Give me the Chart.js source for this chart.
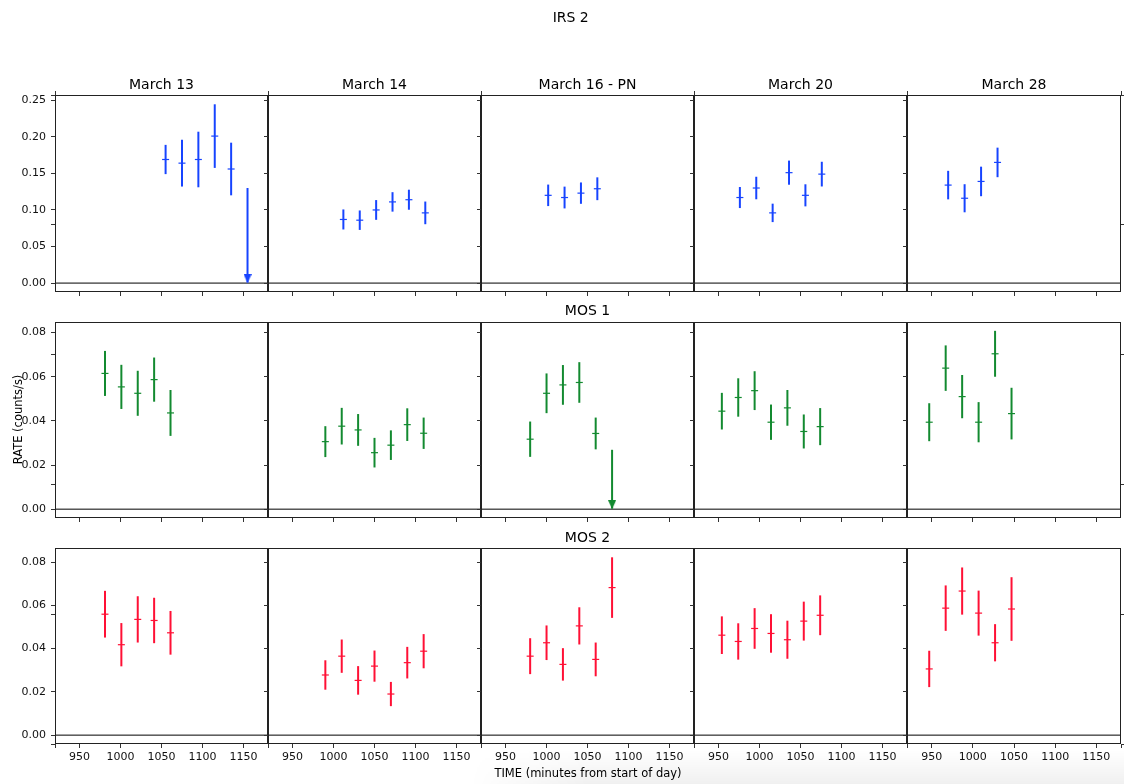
<!DOCTYPE html>
<html>
<head>
<meta charset="utf-8">
<title>IRS 2 light curves</title>
<script src="https://cdn.jsdelivr.net/npm/chart.js@4.4.1/dist/chart.umd.min.js"></script>
<style>
  html, body { margin: 0; padding: 0; background: #fff; }
  #fig { position: relative; width: 1124px; height: 784px; overflow: hidden; font-family: 'DejaVu Sans', sans-serif; }
  #fig canvas { position: absolute; }
  .ttl { position: absolute; font-size: 14px; line-height: normal; color: #000; white-space: nowrap; transform: translateX(-50%); z-index: 5; }
  #shade { position: absolute; left: 470px; top: 750px; width: 654px; height: 34px; z-index: 0;
           background: linear-gradient(to bottom, rgba(0,0,0,0) 0%, rgba(0,0,0,0.06) 100%);
           -webkit-mask-image: linear-gradient(to right, transparent 0%, #000 18%); mask-image: linear-gradient(to right, transparent 0%, #000 18%); }
</style>
</head>
<body>
<div id="fig"><div id="shade"></div></div>
<script>
// ---- labels ----
const FIG_TITLE = 'IRS 2';
const DAYS = ['March 13', 'March 14', 'March 16 - PN', 'March 20', 'March 28'];
const INSTRUMENTS = ['IRS 2', 'MOS 1', 'MOS 2'];
const X_LABEL = 'TIME (minutes from start of day)';
const Y_LABEL = 'RATE (counts/s)';

// ---- tick values ----
const X_TICKS = [950, 1000, 1050, 1100, 1150];
const IRS2_TICKS = [0, 0.05, 0.10, 0.15, 0.20, 0.25];
const MOS_TICKS = [0, 0.02, 0.04, 0.06, 0.08];
const FRAME_TICKS = [0, 0.2, 0.4, 0.6, 0.8, 1.0];

// ---- IRS 2 (one list per day) ----
const IRS2_TIME = [
  [1055, 1075, 1095, 1115, 1135],
  [1012, 1032, 1052, 1072, 1092, 1112],
  [1002, 1022, 1042, 1062],
  [976, 996, 1016, 1036, 1056, 1076],
  [970, 990, 1010, 1030]
];
const IRS2_RATE = [
  [0.169, 0.164, 0.169, 0.201, 0.156],
  [0.087, 0.086, 0.100, 0.111, 0.114, 0.096],
  [0.120, 0.117, 0.123, 0.129],
  [0.117, 0.130, 0.096, 0.151, 0.120, 0.149],
  [0.134, 0.116, 0.139, 0.165]
];
const IRS2_ERR = [
  [0.020, 0.032, 0.038, 0.0435, 0.036],
  [0.0137, 0.0133, 0.0135, 0.0133, 0.0137, 0.0155],
  [0.0147, 0.0149, 0.0146, 0.0156],
  [0.0144, 0.0154, 0.0126, 0.0165, 0.0151, 0.0169],
  [0.0195, 0.0192, 0.0202, 0.0202]
];
const IRS2_LIMIT_TIME = [1155, null, null, null, null];
const IRS2_LIMIT_RATE = [0.130, null, null, null, null];

// ---- MOS 1 ----
const MOS1_TIME = [
  [981, 1001, 1021, 1041, 1061],
  [990, 1010, 1030, 1050, 1070, 1090, 1110],
  [980, 1000, 1020, 1040, 1060],
  [954, 974, 994, 1014, 1034, 1054, 1074],
  [947, 967, 987, 1007, 1027, 1047]
];
const MOS1_RATE = [
  [0.0615, 0.0554, 0.0525, 0.0587, 0.0436],
  [0.0306, 0.0376, 0.0359, 0.0256, 0.0290, 0.0383, 0.0344],
  [0.0317, 0.0525, 0.0563, 0.0574, 0.0343],
  [0.0444, 0.0506, 0.0537, 0.0394, 0.0459, 0.0352, 0.0374],
  [0.0394, 0.0639, 0.0510, 0.0394, 0.0704, 0.0433]
];
const MOS1_ERR = [
  [0.0102, 0.0100, 0.0102, 0.0100, 0.0104],
  [0.0070, 0.0083, 0.0072, 0.0067, 0.0067, 0.0074, 0.0071],
  [0.0080, 0.0090, 0.0090, 0.0092, 0.0072],
  [0.0083, 0.0087, 0.0088, 0.0080, 0.0081, 0.0077, 0.0084],
  [0.0086, 0.0103, 0.0098, 0.0091, 0.0104, 0.0117]
];
const MOS1_LIMIT_TIME = [null, null, 1080, null, null];
const MOS1_LIMIT_RATE = [null, null, 0.0269, null, null];

// ---- MOS 2 ----
const MOS2_TIME = [
  [981, 1001, 1021, 1041, 1061],
  [990, 1010, 1030, 1050, 1070, 1090, 1110],
  [980, 1000, 1020, 1040, 1060, 1080],
  [954, 974, 994, 1014, 1034, 1054, 1074],
  [947, 967, 987, 1007, 1027, 1047]
];
const MOS2_RATE = [
  [0.0559, 0.0418, 0.0535, 0.0530, 0.0473],
  [0.0278, 0.0365, 0.0253, 0.0319, 0.0190, 0.0335, 0.0388],
  [0.0365, 0.0427, 0.0327, 0.0505, 0.0350, 0.0682],
  [0.0462, 0.0433, 0.0493, 0.0470, 0.0441, 0.0527, 0.0554],
  [0.0306, 0.0587, 0.0666, 0.0564, 0.0427, 0.0583]
];
const MOS2_ERR = [
  [0.0108, 0.0100, 0.0107, 0.0105, 0.0101],
  [0.0068, 0.0077, 0.0066, 0.0072, 0.0056, 0.0073, 0.0079],
  [0.0083, 0.0080, 0.0075, 0.0086, 0.0078, 0.0140],
  [0.0087, 0.0084, 0.0094, 0.0089, 0.0088, 0.0090, 0.0092],
  [0.0084, 0.0105, 0.0109, 0.0104, 0.0086, 0.0147]
];
const MOS2_LIMIT_TIME = [null, null, null, null, null];
const MOS2_LIMIT_RATE = [null, null, null, null, null];

// ---- rows of the grid ----
const ROWS = [
  { time: IRS2_TIME, rate: IRS2_RATE, err: IRS2_ERR, limT: IRS2_LIMIT_TIME, limR: IRS2_LIMIT_RATE,
    color: '#1744ff', yMin: -0.0122, yMax: 0.2572, ticks: IRS2_TICKS },
  { time: MOS1_TIME, rate: MOS1_RATE, err: MOS1_ERR, limT: MOS1_LIMIT_TIME, limR: MOS1_LIMIT_RATE,
    color: '#138a30', yMin: -0.0040, yMax: 0.0848, ticks: MOS_TICKS },
  { time: MOS2_TIME, rate: MOS2_RATE, err: MOS2_ERR, limT: MOS2_LIMIT_TIME, limR: MOS2_LIMIT_RATE,
    color: '#ff1035', yMin: -0.0041, yMax: 0.0865, ticks: MOS_TICKS }
];
const X_MIN = 920, X_MAX = 1180;

// ---- geometry ----
const W = 1124, H = 784;
const COL_LEFT = [55, 268, 481, 694, 907];
const PLOT_RIGHT = 1121;
const ROW_TOP = [95, 322, 548];
const ROW_BOTTOM = [292, 518, 744];
const PL = 50, PR = 6, PT = 6, PB = 24;
const FONT = "'DejaVu Sans', sans-serif";

const fig = document.getElementById('fig');

function makeCanvas(left, top, w, h) {
  const cv = document.createElement('canvas');
  cv.width = w; cv.height = h;
  cv.style.left = left + 'px'; cv.style.top = top + 'px';
  cv.style.width = w + 'px'; cv.style.height = h + 'px';
  fig.appendChild(cv);
  return cv;
}

function addText(text, cx, top) {
  const d = document.createElement('div');
  d.className = 'ttl';
  d.textContent = text;
  d.style.left = cx + 'px';
  d.style.top = top + 'px';
  fig.appendChild(d);
}

// Downward arrowhead whose tip sits at the image centre
function arrowHead(color) {
  const cv = document.createElement('canvas');
  cv.width = 8; cv.height = 18;
  const g = cv.getContext('2d');
  g.fillStyle = color;
  g.beginPath(); g.moveTo(0, 0); g.lineTo(8, 0); g.lineTo(4, 9); g.closePath(); g.fill();
  return cv;
}

// Fixed axis box size, no extra room for overhanging tick labels
function fixSize(prop, value) {
  return s => {
    s[prop] = value;
    s.paddingTop = 0; s.paddingBottom = 0; s.paddingLeft = 0; s.paddingRight = 0;
  };
}

// Axes frame (all four spines)
const framePlugin = {
  id: 'frame',
  afterDatasetsDraw(chart) {
    const a = chart.chartArea, ctx = chart.ctx;
    ctx.save();
    ctx.strokeStyle = '#222';
    ctx.lineWidth = 1;
    ctx.strokeRect(a.left + 0.5, a.top + 0.5, a.right - a.left - 1, a.bottom - a.top - 1);
    ctx.restore();
  }
};

const tickGrid = { drawOnChartArea: false, drawTicks: true, tickLength: 4, tickColor: '#333', tickWidth: 1, offset: false };

// ---- background axes: shared axis titles and outer ticks ----
(function () {
  const cv = makeCanvas(0, 0, W, H);
  const hidden = { display: false };
  const setTicks = s => { s.ticks = FRAME_TICKS.map(v => ({ value: v })); };
  new Chart(cv, {
    type: 'scatter',
    data: { datasets: [] },
    options: {
      responsive: false, animation: false, events: [],
      layout: { padding: { top: ROW_TOP[0], left: 0, right: 0, bottom: 0 } },
      plugins: { legend: { display: false }, tooltip: { enabled: false } },
      scales: {
        x: { type: 'linear', position: 'bottom', min: 0, max: 1, afterBuildTicks: setTicks,
             afterFit: fixSize('height', H - ROW_BOTTOM[2]), ticks: hidden, grid: tickGrid, border: { display: false },
             title: { display: true, text: X_LABEL, color: '#000', font: { family: FONT, size: 11.5 }, padding: { top: 0, bottom: 3.5 } } },
        x2: { type: 'linear', position: 'top', min: 0, max: 1, afterBuildTicks: setTicks,
              afterFit: fixSize('height', 0), ticks: hidden, grid: tickGrid, border: { display: false } },
        y: { type: 'linear', position: 'left', min: 0, max: 1, afterBuildTicks: setTicks,
             afterFit: fixSize('width', COL_LEFT[0]), ticks: hidden, grid: tickGrid, border: { display: false },
             title: { display: true, text: Y_LABEL, color: '#000', font: { family: FONT, size: 11.5 }, padding: { top: 11.7, bottom: 0 } } },
        y2: { type: 'linear', position: 'right', min: 0, max: 1, afterBuildTicks: setTicks,
              afterFit: fixSize('width', W - PLOT_RIGHT), ticks: hidden, grid: tickGrid, border: { display: false } }
      }
    }
  });
})();

// ---- one panel per instrument and day ----
function panel(r, c) {
  const row = ROWS[r];
  const L = COL_LEFT[c];
  const R = c < 4 ? COL_LEFT[c + 1] : PLOT_RIGHT;
  const T = ROW_TOP[r], B = ROW_BOTTOM[r];
  const cv = makeCanvas(L - PL, T - PT, (R - L) + PL + PR, (B - T) + PT + PB);

  const t = row.time[c], v = row.rate[c], e = row.err[c];
  const bars = t.map((x, i) => ({ x: x, y: [v[i] - e[i], v[i] + e[i]] }));
  const centres = t.map((x, i) => ({ x: x, y: v[i] }));
  const datasets = [
    { type: 'line', data: [{ x: X_MIN, y: 0 }, { x: X_MAX, y: 0 }], borderColor: '#000', borderWidth: 1,
      pointRadius: 0, order: 4 },
  ];
  const lt = row.limT[c], lr = row.limR[c];
  if (lt !== null) bars.push({ x: lt, y: [0, lr] });
  datasets.push({ type: 'bar', data: bars, backgroundColor: row.color, borderWidth: 0, barThickness: 2,
                  inflateAmount: 0, order: 3 });
  datasets.push({ type: 'scatter', data: centres, pointStyle: 'line', pointRadius: 3.5,
                  pointBorderWidth: 1.2, pointBorderColor: row.color, borderColor: row.color, order: 2 });
  if (lt !== null) {
    datasets.push({ type: 'scatter', data: [{ x: lt, y: 0 }], pointStyle: arrowHead(row.color), pointRadius: 5, order: 1 });
  }

  new Chart(cv, {
    type: 'scatter',
    data: { datasets },
    plugins: [framePlugin],
    options: {
      responsive: false, animation: false, events: [],
      layout: { padding: { left: 0, top: PT, right: PR, bottom: 0 } },
      plugins: { legend: { display: false }, tooltip: { enabled: false } },
      scales: {
        x: { type: 'linear', position: 'bottom', min: X_MIN, max: X_MAX, offset: false,
             afterFit: fixSize('height', PB),
             afterBuildTicks: s => { s.ticks = X_TICKS.map(x => ({ value: x })); },
             ticks: { display: r === 2, autoSkip: false, maxRotation: 0, padding: 3, color: '#111',
                      font: { family: FONT, size: 11 }, callback: x => String(x) },
             grid: tickGrid, border: { display: false } },
        y: { type: 'linear', position: 'left', min: row.yMin, max: row.yMax,
             afterFit: fixSize('width', PL),
             afterBuildTicks: s => { s.ticks = row.ticks.map(y => ({ value: y })); },
             ticks: { display: c === 0, autoSkip: false, padding: 5, color: '#111',
                      font: { family: FONT, size: 11 }, callback: y => y.toFixed(2) },
             grid: tickGrid, border: { display: false } }
      }
    }
  });
}

for (let r = 0; r < 3; r++) for (let c = 0; c < 5; c++) panel(r, c);

// ---- titles ----
addText(FIG_TITLE, 570.7, 8.7);
DAYS.forEach((d, c) => {
  const L = COL_LEFT[c], R = c < 4 ? COL_LEFT[c + 1] : PLOT_RIGHT;
  addText(d, (L + R) / 2, 76.3);
});
const MID = (COL_LEFT[2] + COL_LEFT[3]) / 2;
addText(INSTRUMENTS[1], MID, 302.3);
addText(INSTRUMENTS[2], MID, 528.7);
</script>
</body>
</html>
